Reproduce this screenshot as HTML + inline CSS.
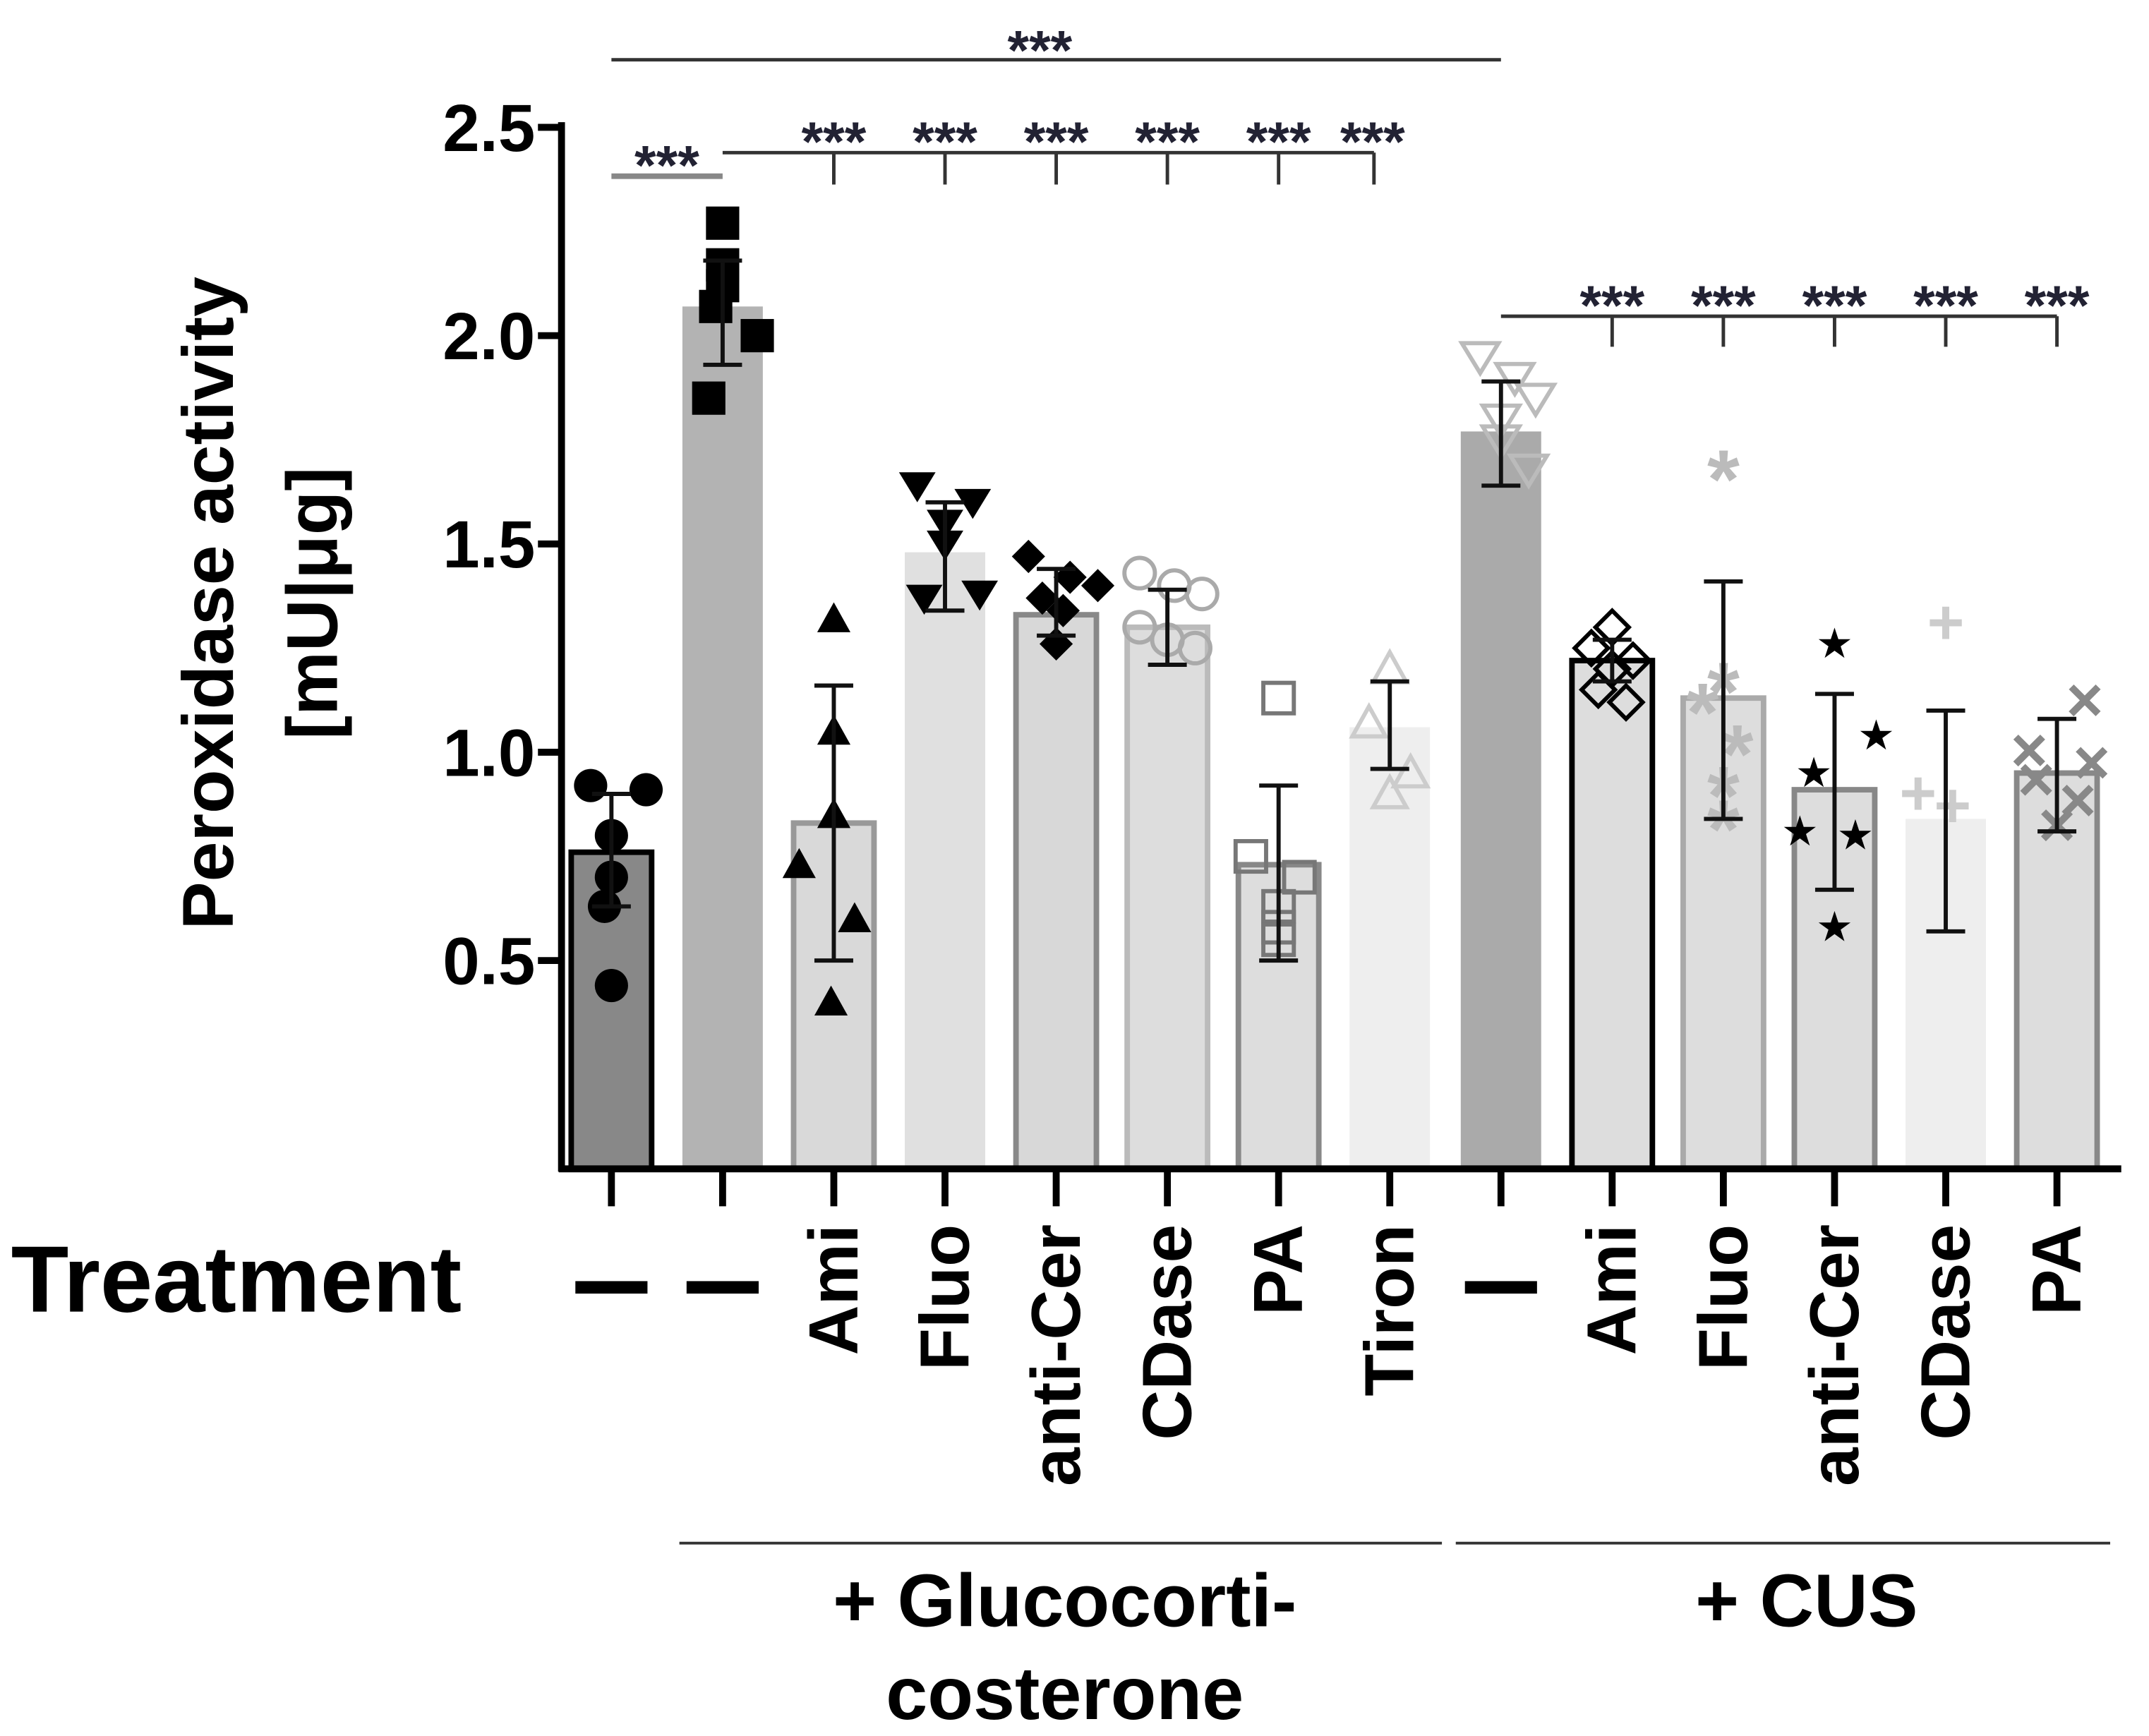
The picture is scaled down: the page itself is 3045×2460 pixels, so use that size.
<!DOCTYPE html>
<html><head><meta charset="utf-8"><style>
html,body{margin:0;padding:0;background:#fff}
svg{display:block}
text{font-family:"Liberation Sans",Arial,sans-serif}
</style></head><body>
<svg id="chart" width="3045" height="2460" viewBox="0 0 1550 1252" xmlns="http://www.w3.org/2000/svg">
<g id="g"></g>
</svg>
<script>
const categories=["—","—","Ami","Fluo","anti-Cer","CDase","PA","Tiron","—","Ami","Fluo","anti-Cer","CDase","PA"];
const means=[0.76,2.07,0.83,1.48,1.33,1.30,0.73,1.06,1.77,1.22,1.13,0.91,0.84,0.95];
const errLow=[0.63,1.93,0.50,1.34,1.28,1.21,0.50,0.96,1.64,1.17,0.84,0.67,0.57,0.81];
const errHigh=[0.90,2.18,1.16,1.60,1.44,1.39,0.92,1.17,1.89,1.27,1.41,1.14,1.10,1.08];
const points=[[0.92,0.91,0.80,0.70,0.63,0.44],[2.27,2.17,2.12,2.07,2.00,1.85],[1.32,1.05,0.85,0.73,0.60,0.40],[1.64,1.60,1.55,1.50,1.38,1.37],[1.47,1.42,1.40,1.37,1.34,1.26],[1.43,1.40,1.38,1.30,1.25,1.27],[1.13,0.75,0.70,0.63,0.58,0.55],[1.20,1.07,0.95,0.90],[1.95,1.90,1.85,1.80,1.75,1.68],[1.30,1.25,1.22,1.20,1.15,1.12],[1.66,1.15,1.10,1.00,0.90,0.82],[1.26,1.04,0.95,0.81,0.80,0.58],[1.31,0.90,0.87],[1.12,1.00,0.97,0.93,0.88,0.82]];
const yTicks=[0.5,1.0,1.5,2.0,2.5];
const yTickLabels=["0.5","1.0","1.5","2.0","2.5"];
const offs=[[-15,25,0,0,-5,0],[0,0,0,-5,25,-10],[0,0,0,-25,15,-2],[-20,20,0,0,25,-15],[-20,10,30,-10,5,0],[-20,5,25,-20,20,0],[0,-20,15,0,0,0],[0,-15,15,0],[-15,10,25,0,0,20],[0,-15,15,0,-10,10],[0,0,-15,10,0,0],[0,30,-15,-25,15,0],[0,-20,5],[20,-20,25,-15,15,0]];
const fills=["#888","#b3b3b3","#d9d9d9","#e0e0e0","#d8d8d8","#ddd","#ddd","#eee","#aaa","#ddd","#ddd","#ddd","#eee","#ddd"];
const strokes=["#000","none","#999","none","#888","#bbb","#888","none","none","#000","#aaa","#888","none","#888"];
const mcol=["#000","#000","#000","#000","#000","#aaa","#777","#ccc","#bbb","#000","#bbb","#000","#ccc","#888"];
const shapes=["circle","square","tri","dtri","diamond","ocircle","osquare","otri","odtri","odiamond","aster","star","plus","x"];
const NS="http://www.w3.org/2000/svg";
const g=document.getElementById('g');
const y0=843,ppu=300.5;
const Y=v=>y0-v*ppu;
const X=i=>441+i*80.2;
function el(t,a,p){const e=document.createElementNS(NS,t);for(const k in a)e.setAttribute(k,a[k]);(p||g).appendChild(e);return e;}
function tx(s,x,y,size,w,anchor,rot){const e=el('text',{x:x,y:y,'font-size':size,'font-weight':w,'text-anchor':anchor||'middle'});if(rot)e.setAttribute('transform',rot);e.textContent=s;return e;}
categories.forEach((c,i)=>{
 const b=el('rect',{x:X(i)-29,y:Y(means[i]),width:58,height:y0-Y(means[i]),fill:fills[i],stroke:strokes[i],'stroke-width':4});
 
 
});
points.forEach((arr,i)=>{arr.forEach((v,j)=>{
 const cx=X(i)+offs[i][j],cy=Y(v),c=mcol[i],s=12;let e;
 switch(shapes[i]){
 case 'circle':e=el('circle',{cx:cx,cy:cy,r:s,fill:c});break;
 case 'square':e=el('rect',{x:cx-s,y:cy-s,width:2*s,height:2*s,fill:c});break;
 case 'tri':e=el('polygon',{points:`${cx},${cy-s} ${cx-s},${cy+s*0.8} ${cx+s},${cy+s*0.8}`,fill:c});break;
 case 'dtri':e=el('polygon',{points:`${cx},${cy+s} ${cx-s*1.1},${cy-s*0.8} ${cx+s*1.1},${cy-s*0.8}`,fill:c});break;
 case 'diamond':e=el('polygon',{points:`${cx},${cy-s} ${cx+s},${cy} ${cx},${cy+s} ${cx-s},${cy}`,fill:c});break;
 case 'ocircle':e=el('circle',{cx:cx,cy:cy,r:s-1,fill:'none',stroke:c,'stroke-width':3});break;
 case 'osquare':e=el('rect',{x:cx-s+1,y:cy-s+1,width:2*s-2,height:2*s-2,fill:'none',stroke:c,'stroke-width':3});break;
 case 'otri':e=el('polygon',{points:`${cx},${cy-s} ${cx-s},${cy+s*0.8} ${cx+s},${cy+s*0.8}`,fill:'none',stroke:c,'stroke-width':3});break;
 case 'odtri':e=el('polygon',{points:`${cx},${cy+s} ${cx-s*1.1},${cy-s*0.8} ${cx+s*1.1},${cy-s*0.8}`,fill:'none',stroke:c,'stroke-width':3});break;
 case 'odiamond':e=el('polygon',{points:`${cx},${cy-s} ${cx+s},${cy} ${cx},${cy+s} ${cx-s},${cy}`,fill:'none',stroke:c,'stroke-width':3});break;
 case 'aster':e=el('text',{x:cx,y:cy+22,'font-size':60,'font-weight':'bold',fill:c,'text-anchor':'middle'});e.textContent='*';break;
 case 'star':e=el('text',{x:cx,y:cy+10,'font-size':30,fill:c,'text-anchor':'middle'});e.textContent='★';break;
 case 'plus':e=el('text',{x:cx,y:cy+15,'font-size':46,'font-weight':'bold',fill:c,'text-anchor':'middle'});e.textContent='+';break;
 case 'x':e=el('text',{x:cx,y:cy+14,'font-size':46,'font-weight':'bold',fill:c,'text-anchor':'middle'});e.textContent='×';break;
 }
 
 
});});
categories.forEach((c,i)=>{
 const eg=el('g',{stroke:'#111','stroke-width':3});
 
 
 el('line',{x1:X(i),x2:X(i),y1:Y(errLow[i]),y2:Y(errHigh[i])},eg);
 el('line',{x1:X(i)-14,x2:X(i)+14,y1:Y(errLow[i]),y2:Y(errLow[i])},eg);
 el('line',{x1:X(i)-14,x2:X(i)+14,y1:Y(errHigh[i]),y2:Y(errHigh[i])},eg);
});
const ax=el('g',{stroke:'#000','stroke-width':5});


el('line',{x1:405,x2:405,y1:88,y2:845},ax);
el('line',{x1:403,x2:1530,y1:843,y2:843},ax);
yTicks.forEach((v,k)=>{el('line',{x1:388,x2:405,y1:Y(v),y2:Y(v)},ax);
 const t=tx(yTickLabels[k],386,Y(v)+17,48,'bold','end');
 
 
});
categories.forEach((c,i)=>{el('line',{x1:X(i),x2:X(i),y1:843,y2:870},ax);
 let t;
 if(c==='—'){t=el('rect',{x:X(i)-26,y:924,width:52,height:9,fill:'#000'});}
 else{t=tx(c,X(i)+17,883,50,'bold','end','rotate(-90 '+(X(i)+17)+' 883)');}
 
 
});
let t=tx('Peroxidase activity',168,435,52,'bold','middle','rotate(-90 168 435)');

t=tx('[mU|μg]',243,435,52,'bold','middle','rotate(-90 243 435)');

t=tx('Treatment',8,946,68,'bold','start');

const gl=el('g',{stroke:'#333','stroke-width':2});

el('line',{x1:490,x2:1040,y1:1113,y2:1113},gl);
el('line',{x1:1050,x2:1522,y1:1113,y2:1113},gl);
t=tx('+ Glucocorti-',768,1173,54,'bold');
t=tx('costerone',768,1240,54,'bold');
t=tx('+ CUS',1303,1173,54,'bold');
const sg=el('g',{stroke:'#333','stroke-width':2.5,fill:'none'});

el('line',{x1:X(0),x2:X(8),y1:43,y2:43},sg);
el('line',{x1:X(0),x2:X(1),y1:127,y2:127,stroke:'#888','stroke-width':4},sg);
el('line',{x1:X(1),x2:991,y1:110,y2:110},sg);
[2,3,4,5,6].forEach(i=>el('line',{x1:X(i),x2:X(i),y1:110,y2:133},sg));
el('line',{x1:991,x2:991,y1:110,y2:133},sg);
el('line',{x1:X(8),x2:X(13),y1:228,y2:228},sg);
[9,10,11,12,13].forEach(i=>el('line',{x1:X(i),x2:X(i),y1:228,y2:250},sg));
function stars(x,y){const s=tx('***',x,y,40,'bold');s.setAttribute('fill','#223');}
stars(750,50);stars(481,133);
[2,3,4,5,6].forEach(i=>stars(X(i),116));stars(990,116);
[9,10,11,12,13].forEach(i=>stars(X(i),234));
</script>
</body></html>
